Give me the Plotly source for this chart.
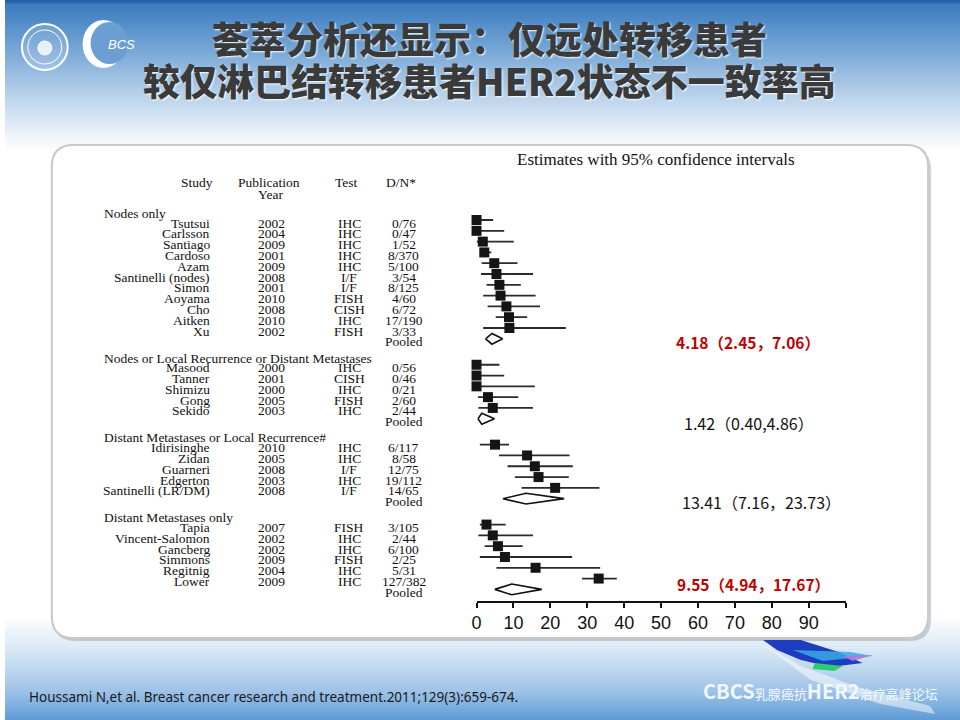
import plotly.graph_objects as go

# ---- data ----
groups = ["Nodes only",
          "Nodes or Local Recurrence or Distant Metastases",
          "Distant Metastases or Local Recurrence#",
          "Distant Metastases only"]
group_of = [0]*11 + [1]*5 + [2]*5 + [3]*6
study = ["Tsutsui", "Carlsson", "Santiago", "Cardoso", "Azam", "Santinelli (nodes)", "Simon",
         "Aoyama", "Cho", "Aitken", "Xu",
         "Masood", "Tanner", "Shimizu", "Gong", "Sekido",
         "Idirisinghe", "Zidan", "Guarneri", "Edgerton", "Santinelli (LR/DM)",
         "Tapia", "Vincent-Salomon", "Gancberg", "Simmons", "Regitnig", "Lower"]
year = ["2002", "2004", "2009", "2001", "2009", "2008", "2001", "2010", "2008", "2010", "2002",
        "2000", "2001", "2000", "2005", "2003",
        "2010", "2005", "2008", "2003", "2008",
        "2007", "2002", "2002", "2009", "2004", "2009"]
test = ["IHC", "IHC", "IHC", "IHC", "IHC", "I/F", "I/F", "FISH", "CISH", "IHC", "FISH",
        "IHC", "CISH", "IHC", "FISH", "IHC",
        "IHC", "IHC", "I/F", "IHC", "I/F",
        "FISH", "IHC", "IHC", "FISH", "IHC", "IHC"]
dn = ["0/76", "0/47", "1/52", "8/370", "5/100", "3/54", "8/125", "4/60", "6/72", "17/190", "3/33",
      "0/56", "0/46", "0/21", "2/60", "2/44",
      "6/117", "8/58", "12/75", "19/112", "14/65",
      "3/105", "2/44", "6/100", "2/25", "5/31", "127/382"]
est = [0.0, 0.0, 1.7, 2.1, 4.8, 5.4, 6.2, 6.5, 8.1, 8.8, 8.9,
       0.0, 0.0, 0.0, 3.1, 4.4,
       5.0, 13.7, 15.8, 16.8, 21.3,
       2.7, 4.4, 5.8, 7.7, 16.0, 33.1]
lo = [0.0, 0.0, 0.0, 0.9, 1.4, 1.2, 2.7, 1.8, 3.0, 5.2, 1.8,
      0.0, 0.0, 0.0, 0.4, 0.5,
      0.9, 6.1, 8.4, 10.4, 12.2,
      0.9, 0.5, 2.2, 0.9, 5.4, 28.6]
hi = [4.5, 7.5, 10.1, 4.0, 11.1, 15.3, 12.0, 16.0, 17.2, 13.7, 24.2,
      6.2, 7.5, 15.8, 11.3, 15.3,
      8.8, 25.2, 26.1, 25.0, 33.3,
      7.9, 15.3, 12.5, 25.9, 33.5, 38.0]
pooled_est = [4.18, 1.42, 13.41, 9.55]
pooled_lo = [2.45, 0.40, 7.16, 4.94]
pooled_hi = [7.06, 4.86, 23.73, 17.67]
pooled_text = ["4.18（2.45，7.06）", "1.42（0.40,4.86）", "13.41（7.16，23.73）", "9.55（4.94，17.67）"]
pooled_red = [True, False, False, True]
tick_vals = [0, 10, 20, 30, 40, 50, 60, 70, 80, 90, 100]
tick_text = ["0", "10", "20", "30", "40", "50", "60", "70", "80", "90", ""]

W, H = 960, 720
ROW = 10.8      # px per row
Y0 = 210.3      # px of row 0


def px(x):
    return x / W


def py(y):
    return 1 - y / H


# row layout
row_y, head_y, pool_y = [], [], []
y = 0.0
for g in range(len(groups)):
    head_y.append(y)
    y += 0.9
    for gi in group_of:
        if gi == g:
            row_y.append(y)
            y += 1
    pool_y.append(y)
    y += 1.5

fig = go.Figure()

# confidence intervals + squares
fig.add_trace(go.Scatter(
    x=est, y=row_y, mode="markers",
    marker=dict(symbol="square", size=10, color="#151515"),
    error_x=dict(type="data", symmetric=False,
                 array=[h - e for h, e in zip(hi, est)],
                 arrayminus=[e - l for e, l in zip(est, lo)],
                 width=0, thickness=1.8, color="#2a2a2a"),
    cliponaxis=False, showlegend=False, hoverinfo="skip"))

# pooled diamonds
for e, l, h, yy in zip(pooled_est, pooled_lo, pooled_hi, pool_y):
    fig.add_trace(go.Scatter(
        x=[l, e, h, e, l], y=[yy, yy - 0.5, yy, yy + 0.5, yy],
        mode="lines", fill="toself", fillcolor="white",
        line=dict(color="#111111", width=1.6),
        cliponaxis=False, showlegend=False, hoverinfo="skip"))

ann = []
serif = dict(family="Liberation Serif, Times New Roman, serif", size=13.5, color="#111111")


def tab(text, x, yy, anchor, shift=-3, font=serif):
    ann.append(dict(text=text, x=px(x), xref="paper", y=yy, yref="y",
                    xanchor=anchor, yanchor="middle", yshift=shift,
                    showarrow=False, font=font))


# column headers
tab("Study", 193, -2.62, "center", 0)
tab("Publication", 265, -2.62, "center", 0)
tab("Year", 267, -1.42, "center", 0)
tab("Test", 343, -2.62, "center", 0)
tab("D/N*", 398, -2.62, "center", 0)
tab("Estimates with 95% confidence intervals", 654, -4.75, "center", 0,
    dict(family="Liberation Serif, serif", size=17, color="#111111"))

for g, name in enumerate(groups):
    tab(name, 98, head_y[g], "left")
    tab("Pooled", 401, pool_y[g], "center")
for i in range(len(study)):
    tab(study[i], 208, row_y[i], "right")
    tab(year[i], 268, row_y[i], "center")
    tab(test[i], 346, row_y[i], "center")
    tab(dn[i], 401, row_y[i], "center")

# pooled estimate labels
label_x = [747, 748, 760, 752]
label_shift = [-3, -4, -3, 5]
for g in range(4):
    red = pooled_red[g]
    ann.append(dict(text=("<b>%s</b>" % pooled_text[g]) if red else pooled_text[g],
                    x=px(label_x[g]), xref="paper", y=pool_y[g], yref="y", yshift=label_shift[g],
                    xanchor="center", yanchor="middle", showarrow=False,
                    font=dict(family="Noto Sans CJK SC", size=15.5 if red else 16,
                              color="#c00000" if red else "#111111")))

# title
title_font = dict(family="Noto Sans CJK SC", size=37, color="#3a3a3a",
                  weight=900, shadow="1px 1px 2px #ffffff")
ann.append(dict(text="荟萃分析还显示：仅远处转移患者", x=px(487), y=py(38), xref="paper", yref="paper",
                xanchor="center", yanchor="middle", showarrow=False, font=title_font))
ann.append(dict(text="较仅淋巴结转移患者HER2状态不一致率高", x=px(487), y=py(80), xref="paper", yref="paper",
                xanchor="center", yanchor="middle", showarrow=False, font=title_font))

# footer
ann.append(dict(text="Houssami N,et al. Breast cancer research and treatment.2011;129(3):659-674.",
                x=px(22), y=py(697), xref="paper", yref="paper", xanchor="left", yanchor="middle",
                showarrow=False, font=dict(family="Noto Sans", size=13.5, color="#1a1a1a")))
ann.append(dict(text="<b>CBCS</b><span style='font-size:13px'>乳腺癌抗</span><b>HER2</b>"
                     "<span style='font-size:13px'>治疗高峰论坛</span>",
                x=px(820), y=py(690), xref="paper", yref="paper", xanchor="center", yanchor="middle",
                showarrow=False, font=dict(family="Noto Sans CJK SC", size=20, color="#f2f8ff")))
# logo text
ann.append(dict(text="<i>BCS</i>", x=px(117), y=py(44), xref="paper", yref="paper",
                xanchor="center", yanchor="middle", showarrow=False,
                font=dict(family="Liberation Sans", size=13, color="white")))

# ---- background shapes ----
shapes = []


def hexrgb(c):
    c = c.lstrip("#")
    return [int(c[i:i + 2], 16) for i in (0, 2, 4)]


def gradient(stops, step=2):
    for k in range(len(stops) - 1):
        (ya, ca), (yb, cb) = stops[k], stops[k + 1]
        a, b = hexrgb(ca), hexrgb(cb)
        yy = ya
        while yy < yb:
            t = (yy - ya) / (yb - ya)
            col = "rgb(%d,%d,%d)" % tuple(round(a[j] + (b[j] - a[j]) * t) for j in range(3))
            shapes.append(dict(type="rect", xref="paper", yref="paper", x0=0, x1=1,
                               y0=py(min(yy + step + 0.5, yb)), y1=py(yy),
                               fillcolor=col, line=dict(width=0), layer="below"))
            yy += step


gradient([(0, "#245fa6"), (4, "#3c7cc0"), (40, "#6a9ed2"), (90, "#b3cee9"),
          (135, "#eef4fa"), (152, "#ffffff")])
gradient([(615, "#ffffff"), (650, "#d8e7f5"), (690, "#9ec3e7"), (720, "#5c9ad6")])


def rounded(x0, y0, x1, y1, r):
    rx, ry = r / W, r / H
    a, b, c, d = px(x0), py(y1), px(x1), py(y0)
    return ("M %f,%f L %f,%f Q %f,%f %f,%f L %f,%f Q %f,%f %f,%f L %f,%f Q %f,%f %f,%f "
            "L %f,%f Q %f,%f %f,%f Z" % (a + rx, d, c - rx, d, c, d, c, d - ry, c, b + ry, c, b, c - rx, b,
                                         a + rx, b, a, b, a, b + ry, a, d - ry, a, d, a + rx, d))


shapes.append(dict(type="path", path=rounded(49, 148, 931, 641, 22), xref="paper", yref="paper",
                   fillcolor="rgba(120,130,140,0.35)", line=dict(width=0), layer="below"))
shapes.append(dict(type="path", path=rounded(47, 145, 928, 638, 22), xref="paper", yref="paper",
                   fillcolor="white", line=dict(color="#c8c8c8", width=2), layer="below"))


def poly(pts, color, opacity=1.0):
    p = "M " + " L ".join("%f,%f" % (px(a), py(b)) for a, b in pts) + " Z"
    shapes.append(dict(type="path", path=p, xref="paper", yref="paper", fillcolor=color,
                       line=dict(width=0), opacity=opacity, layer="below"))


# butterfly decoration
poly([(762, 640), (800, 640), (838, 652), (862, 663), (830, 667), (800, 660), (776, 650)], "#1d3cbf")
poly([(792, 650), (850, 652), (872, 656), (822, 661)], "#3aa9e6", 0.85)
poly([(814, 663), (842, 666), (834, 671), (812, 669)], "#2ccd6c")
poly([(842, 656), (873, 655), (852, 661)], "#b07ad8", 0.9)
poly([(764, 646), (800, 666), (860, 688), (930, 706), (935, 714), (880, 704), (810, 680)], "#ffffff", 0.5)

# logos
shapes.append(dict(type="circle", xref="paper", yref="paper", x0=px(17), x1=px(63), y0=py(70), y1=py(24),
                   line=dict(color="white", width=2), fillcolor="rgba(255,255,255,0.15)"))
shapes.append(dict(type="circle", xref="paper", yref="paper", x0=px(23), x1=px(57), y0=py(64), y1=py(30),
                   line=dict(color="white", width=1), fillcolor="rgba(0,0,0,0)"))
shapes.append(dict(type="circle", xref="paper", yref="paper", x0=px(33), x1=px(47), y0=py(55), y1=py(41),
                   line=dict(color="white", width=1), fillcolor="rgba(255,255,255,0.8)"))
shapes.append(dict(type="circle", xref="paper", yref="paper", x0=px(78), x1=px(120), y0=py(68), y1=py(20),
                   line=dict(width=0), fillcolor="white"))
shapes.append(dict(type="circle", xref="paper", yref="paper", x0=px(86), x1=px(124), y0=py(64), y1=py(22),
                   line=dict(width=0), fillcolor="#6b9fd3"))

fig.update_layout(
    width=W, height=H, margin=dict(l=0, r=0, t=0, b=0),
    paper_bgcolor="white", plot_bgcolor="rgba(0,0,0,0)",
    showlegend=False, annotations=ann, shapes=shapes,
    xaxis=dict(domain=[px(474), px(845)], range=[0, 100], anchor="free", position=py(602),
               showline=True, linecolor="#111111", linewidth=1.6, showgrid=False, zeroline=False,
               ticks="outside", ticklen=5, tickwidth=1.6, tickcolor="#111111",
               tickvals=tick_vals, ticktext=tick_text,
               tickfont=dict(family="Liberation Sans", size=18, color="#111111")),
    yaxis=dict(domain=[0, 1], range=[(H - Y0) / ROW, -Y0 / ROW], visible=False),
)

fig.write_html("out.html", config={"displayModeBar": False},
               post_script="document.body.style.margin='0';")
